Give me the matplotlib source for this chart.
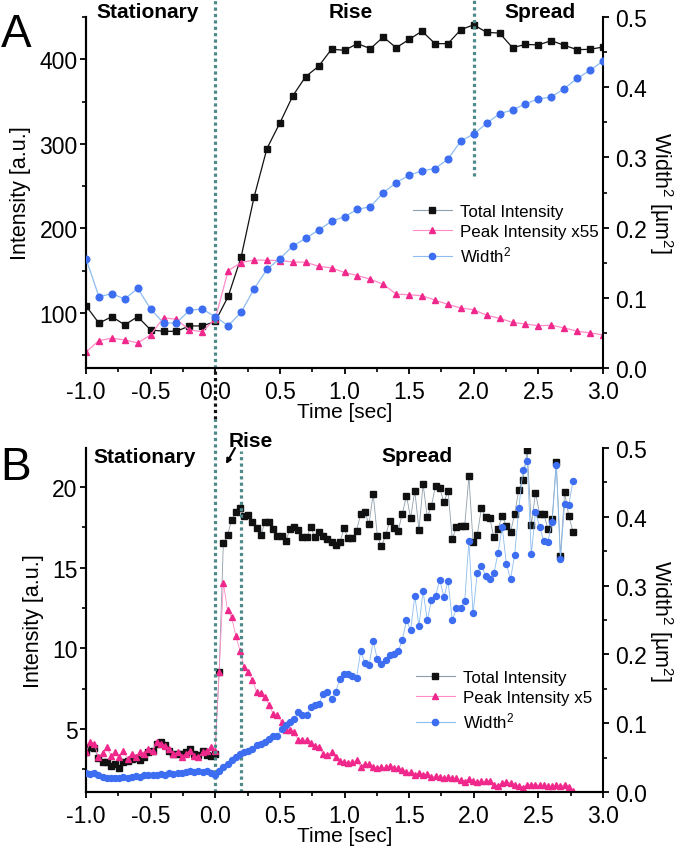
import numpy as np
import matplotlib.pyplot as plt
from matplotlib.lines import Line2D
from matplotlib.ticker import MultipleLocator, FormatStrFormatter

plt.rcParams['font.family'] = ['Liberation Sans', 'DejaVu Sans']
plt.rcParams['mathtext.fontset'] = 'custom'
plt.rcParams['mathtext.rm'] = 'Liberation Sans'
plt.rcParams['mathtext.it'] = 'Liberation Sans:italic'
plt.rcParams['mathtext.bf'] = 'Liberation Sans:bold'
plt.rcParams['axes.unicode_minus'] = False

# ---- panel A, sampled every 0.1 s ----
time_a = np.round(np.arange(-1.0, 3.05, 0.1), 2)
total_a = [108.6, 88, 95.7, 86, 95.7, 80, 78.4, 78.4, 84.7, 84.7,
           90, 119.6, 166, 236.8, 294.5, 324.7, 356.8, 379.6, 391.8, 412,
           410.6, 418.5, 412.6, 426.3, 413.7, 423.5, 433.3, 418.5, 418.5, 435,
           440.8, 431.8, 431, 413.7, 417.6, 417, 422, 416.5, 411.4, 411.8, 414.5]
peak_a = [53.8, 67.4, 70.2, 68.2, 64.7, 74.1, 94.5, 92.5, 80, 78,
          93, 150.2, 159.6, 162.7, 162.4, 162, 160.4, 160, 155.3, 153.3,
          148, 144.3, 140, 134, 122.4, 121.6, 120.4, 115.3, 110.2, 105.9,
          103.9, 97.3, 93.7, 89, 87, 85, 85.5, 82.4, 78.5, 76.5, 74.1]  # x55
width_a = [0.1557, 0.1016, 0.1059, 0.0983, 0.1135, 0.084, 0.0641, 0.0641, 0.0822, 0.084,
           0.0731, 0.0603, 0.0793, 0.1125, 0.1406, 0.1557, 0.1738, 0.1847, 0.1966, 0.209,
           0.2155, 0.226, 0.2298, 0.2497, 0.264, 0.2745, 0.281, 0.284, 0.2973, 0.3234,
           0.3333, 0.3486, 0.3623, 0.3675, 0.3765, 0.3832, 0.386, 0.3979, 0.4126, 0.424, 0.4373]

# ---- panel B, ~31 frames per second ----
FRAME_DT = 0.0322
total_b = [3.55, 3.9, 3.8, 3.18, 2.97, 2.93, 2.72, 2.83, 2.56, 2.95,
           3.03, 3.14, 3.18, 3.10, 3.24, 3.55, 3.65, 4.07, 4.21, 4.0,
           3.65, 3.45, 3.45, 3.45, 3.55, 3.76, 3.45, 3.38, 3.65, 3.38,
           3.34, 3.45,
           8.55, 16.51, 17.02, 17.97, 18.43, 18.68, 18.18, 18.26, 17.81, 17.44,
           17.02, 17.81, 17.85, 17.40, 16.98, 16.98, 16.65, 17.40, 17.50, 17.36,
           16.88, 16.88, 17.50, 16.88, 17.23, 16.98, 16.78, 16.57, 16.40,
           16.57, 17.44, 16.82, 16.82, 17.29, 18.33, 18.43, 17.71, 19.57, 16.98,
           16.32, 17.02, 17.91, 17.44, 17.29, 18.33, 19.46, 18.08, 19.77, 17.35,
           20.19, 18.12, 18.84, 20.08, 19.92, 19.05, 19.77, 16.78, 17.50, 17.56,
           17.60, 20.66, 16.57, 17.02, 18.68, 18.12, 18.10, 16.88, 17.40, 18.22,
           17.60, 17.19, 18.33, 19.83, 20.43, 22.3, 17.64, 19.63, 18.33, 18.33,
           17.40, 18.02, 21.57, 15.70, 19.67, 18.22, 17.23]
peak_b = [3.55, 4.17, 4.07, 3.24, 3.5, 3.86, 3.34, 3.55, 3.24, 3.65,
          3.14, 3.45, 3.24, 3.55, 3.45, 3.76, 3.65, 4.17, 4.07, 3.96,
          3.76, 3.45, 3.55, 3.24, 3.45, 3.65, 3.34, 3.24, 3.55, 3.65,
          3.86, 3.65,
          8.55, 14.05, 12.39, 11.92, 10.78, 9.85, 8.82, 8.51, 8.06, 7.27,
          7.23, 6.96, 6.48, 5.93, 5.88, 5.41, 4.96, 4.96, 4.79, 4.32,
          4.32, 4.32, 4.13, 3.96, 3.86, 3.45, 3.41, 3.55, 3.24, 3.03,
          2.95, 2.9, 2.95, 3.05, 2.65, 2.85, 2.8, 2.65, 2.6, 2.62,
          2.62, 2.7, 2.6, 2.55, 2.45, 2.35, 2.3, 2.15, 2.25, 2.15,
          2.2, 2.0, 2.1, 2.0, 1.95, 2.0, 1.95, 1.95, 1.86, 1.73,
          1.9, 1.8, 1.69, 1.75, 1.75, 1.8, 1.55, 1.49, 1.65, 1.72,
          1.65, 1.55, 1.45, 1.33, 1.55, 1.55, 1.55, 1.5, 1.5, 1.45,
          1.45, 1.5, 1.45, 1.55, 1.4, 1.18]  # x5
width_b = [0.027, 0.026, 0.027, 0.025, 0.022, 0.021, 0.020, 0.021, 0.021, 0.022,
           0.021, 0.022, 0.023, 0.022, 0.024, 0.024, 0.025, 0.025, 0.026, 0.025,
           0.027, 0.026, 0.028, 0.027, 0.029, 0.030, 0.029, 0.031, 0.029, 0.030,
           0.027, 0.024,
           0.031, 0.036, 0.041, 0.046, 0.051, 0.055, 0.058, 0.060, 0.063, 0.068,
           0.070, 0.072, 0.077, 0.082, 0.082, 0.092, 0.097, 0.102, 0.106, 0.116,
           0.112, 0.112, 0.123, 0.127, 0.128, 0.143, 0.146, 0.135, 0.146, 0.164,
           0.172, 0.172, 0.1686, 0.1657, 0.2045, 0.188, 0.1842, 0.2196, 0.1929, 0.1866,
           0.1914, 0.1987, 0.2012, 0.2045, 0.2206, 0.2497, 0.2352, 0.2852, 0.2415, 0.292,
           0.2497, 0.2784, 0.2847, 0.3086, 0.2833, 0.3066, 0.2497, 0.2668, 0.2668, 0.278,
           0.3649, 0.2595, 0.3178, 0.329, 0.3144, 0.3095, 0.3178, 0.3469, 0.3858, 0.3314,
           0.3095, 0.3445, 0.4125, 0.4684, 0.4815, 0.3455, 0.4067, 0.3858, 0.3649, 0.364,
           0.3921, 0.4757, 0.3387, 0.4184, 0.4174, 0.4514]
time_b = -1.0 + FRAME_DT * np.arange(len(total_b))

BLACK = '#111111'
PINK = '#f0288c'
PINK_LINE = '#ff8cc8'
BLUE = '#3d6ef2'
BLUE_LINE = '#8cbcf0'
GRAY_LINE = '#8e9eaa'
TEAL = '#4f8a8a'

W, H = 682, 853
fig = plt.figure(figsize=(W / 100, H / 100), dpi=100)


def px_axes(left, top, right, bottom):
    return fig.add_axes([left / W, 1 - bottom / H, (right - left) / W, (bottom - top) / H])


def style(ax, tw, ylim, ymaj, ymin):
    ax.set_xlim(-1.0, 3.0)
    ax.set_ylim(*ylim)
    tw.set_ylim(0, 0.5)
    for a in (ax, tw):
        a.spines['top'].set_visible(False)
        for s in a.spines.values():
            s.set_linewidth(1.5)
    ax.spines['right'].set_visible(False)
    ax.xaxis.set_major_locator(MultipleLocator(0.5))
    ax.xaxis.set_minor_locator(MultipleLocator(0.25))
    ax.xaxis.set_major_formatter(FormatStrFormatter('%.1f'))
    ax.yaxis.set_major_locator(MultipleLocator(ymaj))
    ax.yaxis.set_minor_locator(MultipleLocator(ymin))
    tw.yaxis.set_major_locator(MultipleLocator(0.1))
    tw.yaxis.set_minor_locator(MultipleLocator(0.05))
    tw.yaxis.set_major_formatter(FormatStrFormatter('%.1f'))
    ax.tick_params(axis='x', which='major', length=4.5, width=1.3, labelsize=16.5, pad=4.5)
    ax.tick_params(axis='x', which='minor', length=3, width=1.2)
    ax.tick_params(axis='y', which='major', length=4.5, width=1.3, labelsize=16.5, pad=1.5)
    ax.tick_params(axis='y', which='minor', length=3, width=1.2)
    tw.tick_params(axis='y', which='major', length=4.5, width=1.3, labelsize=16.5, pad=4)
    tw.tick_params(axis='y', which='minor', length=3, width=1.2)
    ax.set_xlabel('Time [sec]', fontsize=15, labelpad=-1)
    ax.set_ylabel('Intensity [a.u.]', fontsize=15.5, labelpad=6)
    tw.set_ylabel('Width$^2$ [µm$^2$]', fontsize=15.5, rotation=270, labelpad=20)


def add_legend(x, y_top, peak_label):
    handles = [
        Line2D([], [], color=GRAY_LINE, lw=0.8, marker='s', ms=4.5, mfc=BLACK, mec=BLACK),
        Line2D([], [], color=PINK_LINE, lw=0.8, marker='^', ms=4.5, mfc=PINK, mec=PINK),
        Line2D([], [], color=BLUE_LINE, lw=0.8, marker='o', ms=4.5, mfc=BLUE, mec=BLUE),
    ]
    labels = ['Total Intensity', peak_label, 'Width$^2$']
    fig.legend(handles, labels, loc='upper left', bbox_to_anchor=(x / W, 1 - y_top / H),
               frameon=False, fontsize=12.2, handlelength=2.3, handletextpad=0.5,
               labelspacing=0.32, borderpad=0, borderaxespad=0)


def dotted(ax, x, y0, y1, color):
    ax.axvline(x, ymin=y0, ymax=y1, color=color, lw=2.3, ls=(0, (1, 1)),
               dash_capstyle='butt', clip_on=False, zorder=1)


# ---------------- panel A ----------------
ax_a = px_axes(86, 18, 603, 369)
tw_a = ax_a.twinx()
ax_a.plot(time_a, total_a, color=BLACK, lw=0.9, marker='s', ms=3.8, zorder=3)
ax_a.plot(time_a, peak_a, color=PINK_LINE, lw=0.9, marker='^', ms=4.5,
          mfc=PINK, mec=PINK, zorder=3)
tw_a.plot(time_a, width_a, color=BLUE_LINE, lw=0.9, marker='o', ms=4.8,
          mfc=BLUE, mec=BLUE, zorder=3)
style(ax_a, tw_a, (35, 450), 100, 50)
dotted(tw_a, 0.0, 0.0, 1 + 18 / 351, TEAL)
dotted(tw_a, 2.0, (369 - 177) / 351, 1 + 18 / 351, TEAL)
dotted(tw_a, 0.0, -(420 - 369) / 351, 0.0, BLACK)
add_legend(413, 205, 'Peak Intensity x55')

# ---------------- panel B ----------------
ax_b = px_axes(86, 449, 603, 793)
tw_b = ax_b.twinx()
ax_b.plot(time_b, total_b, color=GRAY_LINE, lw=0.6, marker='s', ms=4.3,
          mfc=BLACK, mec=BLACK, zorder=3)
ax_b.plot(time_b, peak_b, color=PINK_LINE, lw=0.6, marker='^', ms=4.2,
          mfc=PINK, mec=PINK, zorder=3)
tw_b.plot(time_b, width_b, color=BLUE_LINE, lw=0.6, marker='o', ms=4.3,
          mfc=BLUE, mec=BLUE, zorder=3)
style(ax_b, tw_b, (1.09, 22.42), 5, 2.5)
dotted(tw_b, 0.0, 0.0, (793 - 420) / 344, TEAL)
dotted(tw_b, 0.2, 0.0, (793 - 452) / 344, TEAL)
add_legend(416, 671, 'Peak Intensity x5')

# ---------------- annotations ----------------
bold = dict(fontsize=15, fontweight='bold', ha='center', va='baseline')
fig.text(147.5 / W, 1 - 18 / H, 'Stationary', **bold)
fig.text(351 / W, 1 - 17.5 / H, 'Rise', **bold)
fig.text(540 / W, 1 - 17.5 / H, 'Spread', **bold)
fig.text(144.7 / W, 1 - 463 / H, 'Stationary', **bold)
fig.text(250.7 / W, 1 - 447 / H, 'Rise', **bold)
fig.text(417 / W, 1 - 462 / H, 'Spread', **bold)
ax_b.annotate('', xy=(226, H - 465), xytext=(235, H - 449),
              xycoords='figure pixels', textcoords='figure pixels',
              arrowprops=dict(arrowstyle='-|>', color='black', lw=1.5,
                              mutation_scale=7, shrinkA=0, shrinkB=0))

fig.text(16 / W, 1 - 35 / H, 'A', fontsize=33, ha='center', va='center')
fig.text(16 / W, 1 - 468 / H, 'B', fontsize=33, ha='center', va='center')

fig.savefig('out.png', dpi=100)
